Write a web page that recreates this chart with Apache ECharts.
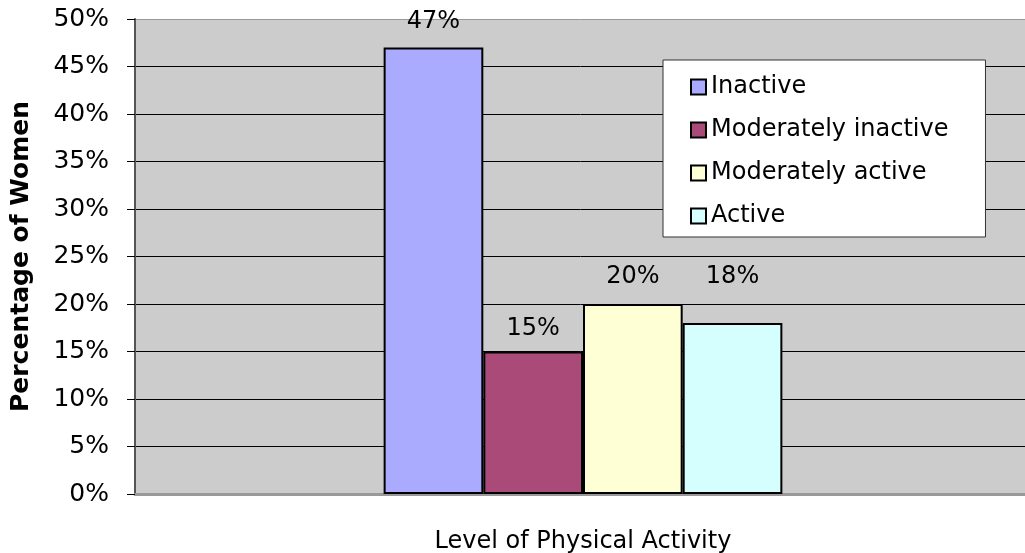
<!DOCTYPE html>
<html>
<head>
	<meta charset="utf-8">
	<title>Physical activity</title>
	<script type="text/javascript" src="https://cdn.jsdelivr.net/npm/echarts@6/dist/echarts.min.js"></script>
	<style>
		body { margin: 0; background: #fff; }
		#chart { width: 1025px; height: 553px; }
	</style>
</head>
<body>
	<div id="chart"></div>
	<script type="text/javascript">
	var categories = [''];
	var seriesNames = ['Inactive', 'Moderately inactive', 'Moderately active', 'Active'];
	var seriesValues = [47, 15, 20, 18];
	var seriesColors = ['#AAAAFF', '#A94A78', '#FFFFD5', '#D5FFFF'];
	var yTicks = [0, 5, 10, 15, 20, 25, 30, 35, 40, 45, 50];

	var font = 'DejaVu Sans, Verdana, sans-serif';
	var labelDistance = [14, 11, 15, 34];
	var chart = echarts.init(document.getElementById('chart'));

	// gray border for 0% and 50%, black for the rest
	var splitColors = yTicks.map(function (v, i) {
		return (i === 0 || i === yTicks.length - 1) ? '#999999' : '#000000';
	});

	var series = seriesNames.map(function (name, i) {
		return {
			name: name,
			type: 'bar',
			data: [seriesValues[i]],
			barGap: '0%',
			barCategoryGap: '55.5%',
			itemStyle: {
				color: seriesColors[i],
				borderColor: '#000',
				borderWidth: 2
			},
			label: {
				show: true,
				position: 'top',
				distance: labelDistance[i],
				formatter: '{c}%',
				color: '#000',
				fontFamily: font,
				fontSize: 24
			}
		};
	});

	chart.setOption({
		animation: false,
		backgroundColor: '#fff',
		grid: {
			left: 135,
			width: 896,
			top: 19,
			bottom: 59,
			outerBoundsMode: 'none',
			containLabel: false,
			show: true,
			backgroundColor: '#CCCCCC',
			borderWidth: 0
		},
		legend: {
			orient: 'vertical',
			left: 663,
			top: 60,
			padding: [15, 37, 9, 27],
			itemGap: 19,
			itemWidth: 15,
			itemHeight: 15,
			icon: 'rect',
			backgroundColor: '#fff',
			borderColor: '#333',
			borderWidth: 1,
			textStyle: { fontFamily: font, fontSize: 24, color: '#000' },
			data: seriesNames
		},
		xAxis: {
			type: 'category',
			data: categories,
			name: 'Level of Physical Activity',
			nameLocation: 'middle',
			nameGap: 36,
			nameTextStyle: { fontFamily: font, fontSize: 24, color: '#000' },
			axisLine: { show: true, lineStyle: { color: '#999', width: 3 } },
			axisTick: { show: false },
			axisLabel: { show: false }
		},
		yAxis: {
			type: 'value',
			min: 0,
			max: 50,
			interval: 5,
			name: 'Percentage of Women',
			nameLocation: 'middle',
			nameGap: 101,
			nameTextStyle: { fontFamily: font, fontSize: 25, fontWeight: 'bold', color: '#000' },
			axisLine: { show: true, lineStyle: { color: '#555', width: 2 } },
			axisTick: { show: true, length: 8, lineStyle: { color: '#000' } },
			axisLabel: {
				formatter: '{value}%',
				margin: 26,
				fontFamily: font,
				fontSize: 25,
				color: '#000'
			},
			splitLine: { show: true, lineStyle: { color: splitColors, width: 1 } }
		},
		series: series
	});
	</script>
</body>
</html>
